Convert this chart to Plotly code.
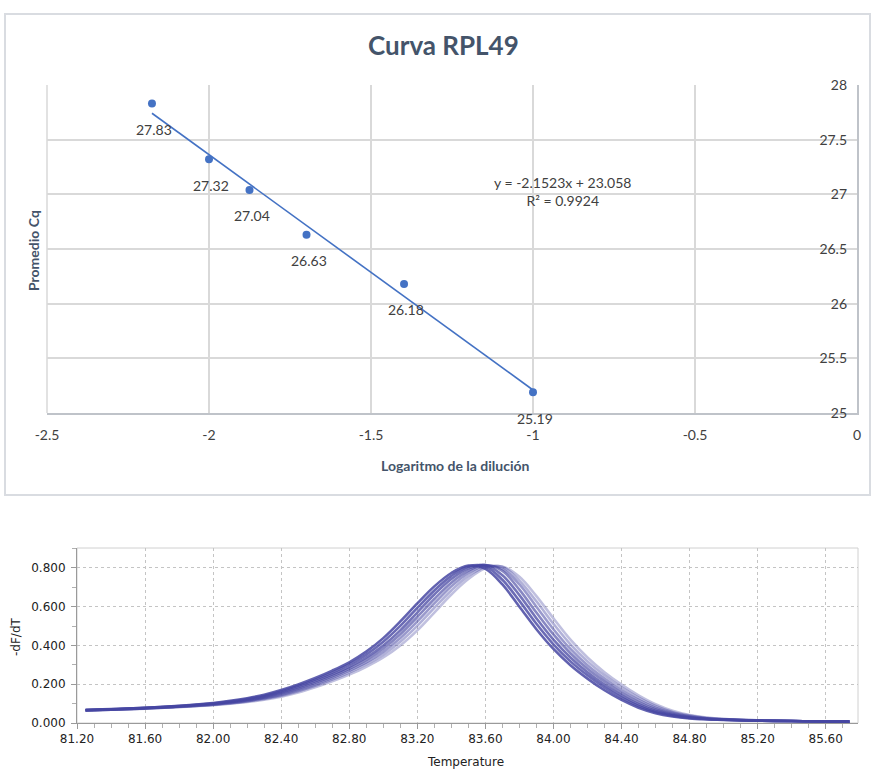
import plotly.graph_objects as go

# ---- standard curve: Cq vs log10(dilution) ----
log_dilution = [-2.176, -2.0, -1.875, -1.699, -1.398, -1.0]
mean_cq = [27.83, 27.32, 27.04, 26.63, 26.18, 25.19]
fit_slope = -2.1523
fit_intercept = 23.058
fit_r2 = 0.9924

x_tick_vals = [-2.5, -2.0, -1.5, -1.0, -0.5, 0.0]
x_tick_text = ["-2.5", "-2", "-1.5", "-1", "-0.5", "0"]
y_tick_vals = [25, 25.5, 26, 26.5, 27, 27.5, 28]
y_tick_text = ["25", "25.5", "26", "26.5", "27", "27.5", "28"]

# ---- melt curves: -dF/dT vs temperature, one list per well ----
melt_temps = [81.25, 81.4, 81.6, 81.8,
              82.0, 82.1, 82.2, 82.3, 82.4, 82.5, 82.6, 82.7, 82.8, 82.9,
              83.0, 83.1, 83.2, 83.3, 83.4, 83.5, 83.6, 83.7, 83.8, 83.9,
              84.0, 84.1, 84.2, 84.3, 84.4, 84.5, 84.6, 84.7, 84.8, 84.9,
              85.0, 85.2, 85.4, 85.6, 85.74]
dfdt_w1 = [0.068, 0.072, 0.079, 0.089,
           0.103, 0.114, 0.128, 0.146, 0.170, 0.199, 0.232, 0.270, 0.313, 0.368,
           0.438, 0.524, 0.617, 0.705, 0.774, 0.812, 0.795, 0.715, 0.600, 0.484,
           0.382, 0.298, 0.229, 0.169, 0.119, 0.079, 0.051, 0.034, 0.024, 0.019,
           0.016, 0.012, 0.010, 0.008, 0.007]
dfdt_w2 = [0.067, 0.071, 0.078, 0.088,
           0.101, 0.111, 0.124, 0.141, 0.164, 0.192, 0.224, 0.260, 0.302, 0.353,
           0.419, 0.501, 0.594, 0.684, 0.759, 0.808, 0.808, 0.739, 0.630, 0.512,
           0.406, 0.318, 0.246, 0.184, 0.131, 0.088, 0.057, 0.038, 0.026, 0.020,
           0.017, 0.012, 0.010, 0.008, 0.007]
dfdt_w3 = [0.066, 0.070, 0.077, 0.086,
           0.099, 0.108, 0.120, 0.136, 0.157, 0.184, 0.215, 0.250, 0.290, 0.338,
           0.400, 0.478, 0.570, 0.663, 0.743, 0.798, 0.815, 0.762, 0.660, 0.540,
           0.430, 0.338, 0.262, 0.198, 0.143, 0.097, 0.063, 0.041, 0.028, 0.021,
           0.017, 0.012, 0.010, 0.008, 0.007]
dfdt_w4 = [0.066, 0.070, 0.076, 0.085,
           0.097, 0.106, 0.117, 0.132, 0.152, 0.177, 0.207, 0.241, 0.280, 0.326,
           0.384, 0.458, 0.547, 0.640, 0.724, 0.786, 0.815, 0.785, 0.688, 0.570,
           0.457, 0.360, 0.280, 0.214, 0.156, 0.108, 0.071, 0.046, 0.031, 0.023,
           0.018, 0.012, 0.010, 0.008, 0.007]
dfdt_w5 = [0.065, 0.069, 0.075, 0.084,
           0.095, 0.103, 0.114, 0.128, 0.146, 0.170, 0.199, 0.232, 0.270, 0.313,
           0.368, 0.438, 0.524, 0.617, 0.705, 0.774, 0.812, 0.795, 0.715, 0.600,
           0.484, 0.382, 0.298, 0.229, 0.169, 0.119, 0.079, 0.051, 0.034, 0.024,
           0.019, 0.013, 0.010, 0.008, 0.007]
dfdt_w6 = [0.064, 0.068, 0.075, 0.083,
           0.094, 0.101, 0.111, 0.124, 0.141, 0.164, 0.192, 0.224, 0.260, 0.302,
           0.353, 0.419, 0.501, 0.594, 0.684, 0.759, 0.805, 0.805, 0.735, 0.628,
           0.512, 0.406, 0.318, 0.246, 0.184, 0.131, 0.088, 0.057, 0.038, 0.026,
           0.020, 0.014, 0.010, 0.008, 0.007]
dfdt_w7 = [0.064, 0.068, 0.074, 0.083,
           0.092, 0.099, 0.108, 0.120, 0.136, 0.157, 0.184, 0.215, 0.250, 0.290,
           0.338, 0.400, 0.478, 0.570, 0.663, 0.743, 0.798, 0.808, 0.755, 0.655,
           0.540, 0.430, 0.338, 0.262, 0.198, 0.143, 0.097, 0.063, 0.041, 0.028,
           0.021, 0.014, 0.010, 0.008, 0.007]
# drawn back to front: the later-melting wells are the paler ones
melt_wells = [dfdt_w7, dfdt_w6, dfdt_w5, dfdt_w4, dfdt_w3, dfdt_w2, dfdt_w1]
well_alpha = [0.34, 0.42, 0.55, 0.65, 0.75, 0.8, 0.85]

W, H = 872, 770
BLUE = "#4472C4"
SLATE = "#44546A"
TXT = "#404040"
GRID = "#D9D9D9"


def px(x):
    return x / W


def py(y):
    return 1 - y / H


def label(x, y, text, font, angle=0):
    return dict(x=px(x), y=py(y), xref="paper", yref="paper", text=text,
                showarrow=False, xanchor="center", yanchor="middle",
                textangle=angle, align="center", font=font)


fig = go.Figure()

# fitted trend line across the measured range
x_lo, x_hi = min(log_dilution), max(log_dilution)
fig.add_trace(go.Scatter(
    x=[x_lo, x_hi],
    y=[fit_slope * x_lo + fit_intercept, fit_slope * x_hi + fit_intercept],
    mode="lines", line=dict(color=BLUE, width=1.6),
    xaxis="x", yaxis="y", hoverinfo="skip", showlegend=False))

fig.add_trace(go.Scatter(
    x=log_dilution, y=mean_cq, mode="markers",
    marker=dict(color=BLUE, size=8),
    xaxis="x", yaxis="y", showlegend=False))

annotations = []
for xv, yv in zip(log_dilution, mean_cq):
    annotations.append(dict(
        x=xv, y=yv, xref="x", yref="y", text=f"{yv:.2f}", showarrow=False,
        xanchor="center", yanchor="middle",
        yshift=-26, xshift=2, font=dict(family="Lato", size=14, color=TXT)))

annotations.append(label(562, 191,
                         f"y = {fit_slope}x + {fit_intercept}<br>R² = {fit_r2}",
                         dict(family="Lato", size=14, color=TXT)))
annotations.append(label(443, 45, "<b>Curva RPL49</b>",
                         dict(family="Lato", size=26, color=SLATE)))
annotations.append(label(455, 465, "<b>Logaritmo de la dilución</b>",
                         dict(family="Lato", size=14, color=SLATE)))
annotations.append(label(33, 251, "<b>Promedio Cq</b>",
                         dict(family="Lato", size=14, color=SLATE), angle=-90))

# melt curves
for vals, a in zip(melt_wells, well_alpha):
    fig.add_trace(go.Scatter(
        x=melt_temps, y=vals, mode="lines",
        line=dict(color=f"rgba(70,70,162,{a})", width=2.6, shape="spline", smoothing=1.0),
        xaxis="x2", yaxis="y2", hoverinfo="skip", showlegend=False))

annotations.append(label(466, 762, "Temperature",
                         dict(family="DejaVu Sans", size=12, color="#222")))
annotations.append(label(16, 637, "-dF/dT",
                         dict(family="DejaVu Sans", size=12, color="#222"), angle=-90))

shapes = [
    # frame around the standard-curve chart
    dict(type="rect", xref="paper", yref="paper", x0=px(5), x1=px(870),
         y0=py(495), y1=py(14), line=dict(color="#D9DCE1", width=2), layer="below"),
    # frame around the melt-curve plot area
    dict(type="rect", xref="x2 domain", yref="y2 domain", x0=0, x1=1, y0=0, y1=1,
         line=dict(color="#D0D0D0", width=1), layer="below"),
    # left edge gridline of the standard curve plot
    dict(type="line", xref="x domain", yref="y domain", x0=0, x1=0, y0=0, y1=1,
         line=dict(color=GRID, width=1.5), layer="below"),
]

fig.update_layout(
    width=W, height=H, margin=dict(l=0, r=0, t=0, b=0, autoexpand=False),
    paper_bgcolor="white", plot_bgcolor="white",
    annotations=annotations, shapes=shapes,
    xaxis=dict(
        domain=[px(47), px(857)], range=[-2.5, 0], anchor="y", automargin=False,
        tickvals=x_tick_vals, ticktext=x_tick_text,
        showgrid=True, gridcolor=GRID, gridwidth=1.5, zeroline=False,
        showline=True, linecolor="#BFC3C9", linewidth=1.5,
        ticks="", ticklabelstandoff=8, ticklabeloverflow="allow",
        tickfont=dict(family="Lato", size=14, color=TXT)),
    yaxis=dict(
        domain=[py(413), py(85)], range=[25, 28], anchor="x", side="right",
        automargin=False,
        tickvals=y_tick_vals, ticktext=y_tick_text,
        showgrid=True, gridcolor=GRID, gridwidth=1.5, zeroline=False,
        showline=True, linecolor="#BFC3C9", linewidth=1.5,
        ticks="", ticklabelposition="inside", ticklabelstandoff=10,
        ticklabeloverflow="allow",
        tickfont=dict(family="Lato", size=14, color=TXT)),
    xaxis2=dict(
        domain=[px(77), px(858)], range=[81.2, 85.79], anchor="y2", automargin=False,
        tick0=81.2, dtick=0.4, tickformat=".2f",
        showgrid=True, gridcolor="#C4C4C4", griddash="dot", gridwidth=1,
        zeroline=False, showline=True, linecolor="#9A9A9A", linewidth=1,
        ticks="outside", ticklen=5, tickcolor="#9A9A9A",
        minor=dict(dtick=0.1, tick0=81.2, ticks="outside", ticklen=4,
                   tickcolor="#B0B0B0", showgrid=False),
        tickfont=dict(family="DejaVu Sans", size=12, color="#222")),
    yaxis2=dict(
        domain=[py(723), py(548)], range=[0, 0.903], anchor="x2", automargin=False,
        tick0=0, dtick=0.2, tickformat=".3f",
        showgrid=True, gridcolor="#C4C4C4", griddash="dot", gridwidth=1,
        zeroline=False, showline=True, linecolor="#9A9A9A", linewidth=1,
        ticks="outside", ticklen=5, tickcolor="#9A9A9A", ticklabelstandoff=3,
        minor=dict(dtick=0.1, tick0=0, ticks="outside", ticklen=4,
                   tickcolor="#B0B0B0", showgrid=False),
        tickfont=dict(family="DejaVu Sans", size=12, color="#222")),
)

fig.write_html("out.html")
